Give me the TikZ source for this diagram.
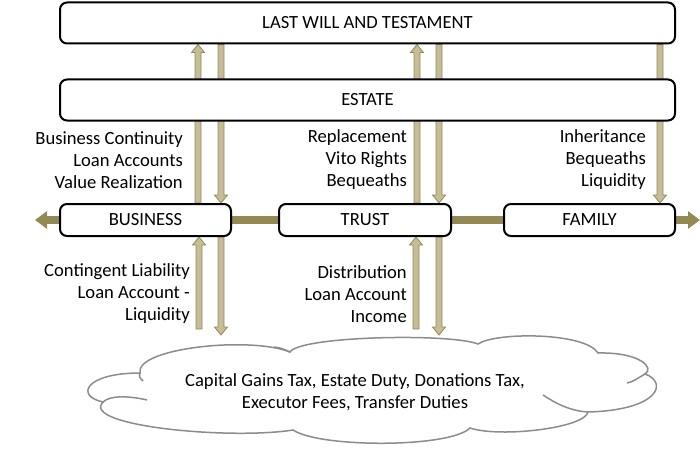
\documentclass[tikz,border=0pt]{standalone}
\usepackage{fontspec}
\setmainfont{Carlito}
\usetikzlibrary{calc,arrows.meta}
\pgfdeclarelayer{bg}
\pgfsetlayers{bg,main}
\definecolor{barolive}{HTML}{938953}
\definecolor{khakifill}{HTML}{C4BD97}
\definecolor{khakiedge}{HTML}{948A54}
\definecolor{cloudgray}{HTML}{8C8C8C}
\tikzset{
  box/.style={draw=black, line width=2pt, rounded corners=7pt, fill=white, inner sep=0pt, font=\fontsize{18.6}{22}\selectfont},
  lbl/.style={inner sep=0pt, align=right, anchor=east, font=\fontsize{18.6}{22}\selectfont},
  arrowbody/.style={fill=khakifill, draw=khakiedge, line width=0.8pt},
  cloudline/.style={draw=cloudgray, line width=1.5pt},
  hbar/.style={barolive, line width=8pt, {Triangle[length=12pt,width=17pt]}-{Triangle[length=12pt,width=17pt]}},
}
% #1 point giving x, #2 point giving tail y, #3 point giving tip y, #4 head offset
\newcommand\blockarrow[4]{%
  \draw[arrowbody] let \p3=(#1), \p1=(#2), \p2=(#3) in
   (\x3-3pt,\y1) -- (\x3-3pt,\y2+#4) -- (\x3-6.5pt,\y2+#4) -- (\x3,\y2)
   -- (\x3+6.5pt,\y2+#4) -- (\x3+3pt,\y2+#4) -- (\x3+3pt,\y1) -- cycle;}
\begin{document}
\begin{tikzpicture}[x=1pt,y=1pt]
\useasboundingbox (0,0) rectangle (700,448);

% boxes
\node[box, minimum width=615pt, minimum height=41pt] (will) at (367.5,425) {LAST WILL AND TESTAMENT};
\node[box, minimum width=615pt, minimum height=41pt] (estate) at (367.5,348) {ESTATE};
\node[box, minimum width=171pt, minimum height=32pt] (business) at (145.5,228) {BUSINESS};
\node[box, minimum width=172pt, minimum height=32pt] (trust) at (365,228) {TRUST};
\node[box, minimum width=171pt, minimum height=32pt] (family) at (589.5,228) {FAMILY};

% cloud end points of the lower arrows
\coordinate (ctail) at (0,119);
\coordinate (ctip) at (0,113);

\begin{pgfonlayer}{bg}
  \draw[hbar] ($(business.west)+(-24,0)$) -- ($(family.east)+(24,0)$);
  % upper arrows
  \blockarrow{$(business.east)+(-34,0)$}{business.north}{will.south}{-8pt}
  \blockarrow{$(business.east)+(-11,0)$}{will.south}{business.north}{8pt}
  \blockarrow{$(trust.east)+(-35,0)$}{trust.north}{will.south}{-8pt}
  \blockarrow{$(trust.east)+(-13,0)$}{will.south}{trust.north}{8pt}
  \blockarrow{$(family.east)+(-16,0)$}{will.south}{family.north}{8pt}
  % lower arrows
  \blockarrow{$(business.east)+(-33,0)$}{ctail}{business.south}{-8pt}
  \blockarrow{$(business.east)+(-11,0)$}{business.south}{ctip}{8pt}
  \blockarrow{$(trust.east)+(-36,0)$}{ctail}{trust.south}{-8pt}
  \blockarrow{$(trust.east)+(-13,0)$}{trust.south}{ctip}{8pt}
\end{pgfonlayer}

% labels
\node[lbl] (l1) at (183,288) {Business Continuity\\Loan Accounts\\Value Realization};
\node[lbl] (l2) at (407,288) {Replacement\\Vito Rights\\Bequeaths};
\node[lbl] (l3) at (646,288) {Inheritance\\Bequeaths\\Liquidity};
\node[lbl] (l4) at (190,154) {Contingent Liability\\Loan Account -\\Liquidity};
\node[lbl] (l5) at (407,154) {Distribution\\Loan Account\\Income};

% cloud
\path[cloudline, fill=white] (140,75)
  .. controls (135,100) and (250,112) .. (290,96)
  .. controls (300,112) and (450,115) .. (478,104)
  .. controls (495,116) and (585,116) .. (598,95)
  .. controls (640,96) and (655,80) .. (645,74)
  .. controls (668,66) and (660,38) .. (588,36)
  .. controls (585,20) and (500,10) .. (470,20)
  .. controls (450,0) and (320,0) .. (293,18)
  .. controls (230,8) and (80,22) .. (103,46)
  .. controls (75,52) and (85,75) .. (140,75) -- cycle;
\draw[cloudline] (103,46) .. controls (110,53) and (130,52) .. (147,48);
\draw[cloudline] (645,74) .. controls (638,70) and (633,66) .. (627,65);
\draw[cloudline] (588,36) .. controls (570,37) and (555,45) .. (543,53);
\draw[cloudline] (140,75) .. controls (139,71) .. (143,67);
\draw[cloudline] (274,101) .. controls (281,100) .. (290,96);

\node[font=\fontsize{18.6}{22}\selectfont, align=center, inner sep=0pt] (ctext) at (355,56)
  {Capital Gains Tax, Estate Duty, Donations Tax,\\Executor Fees, Transfer Duties};
\end{tikzpicture}
\end{document}
